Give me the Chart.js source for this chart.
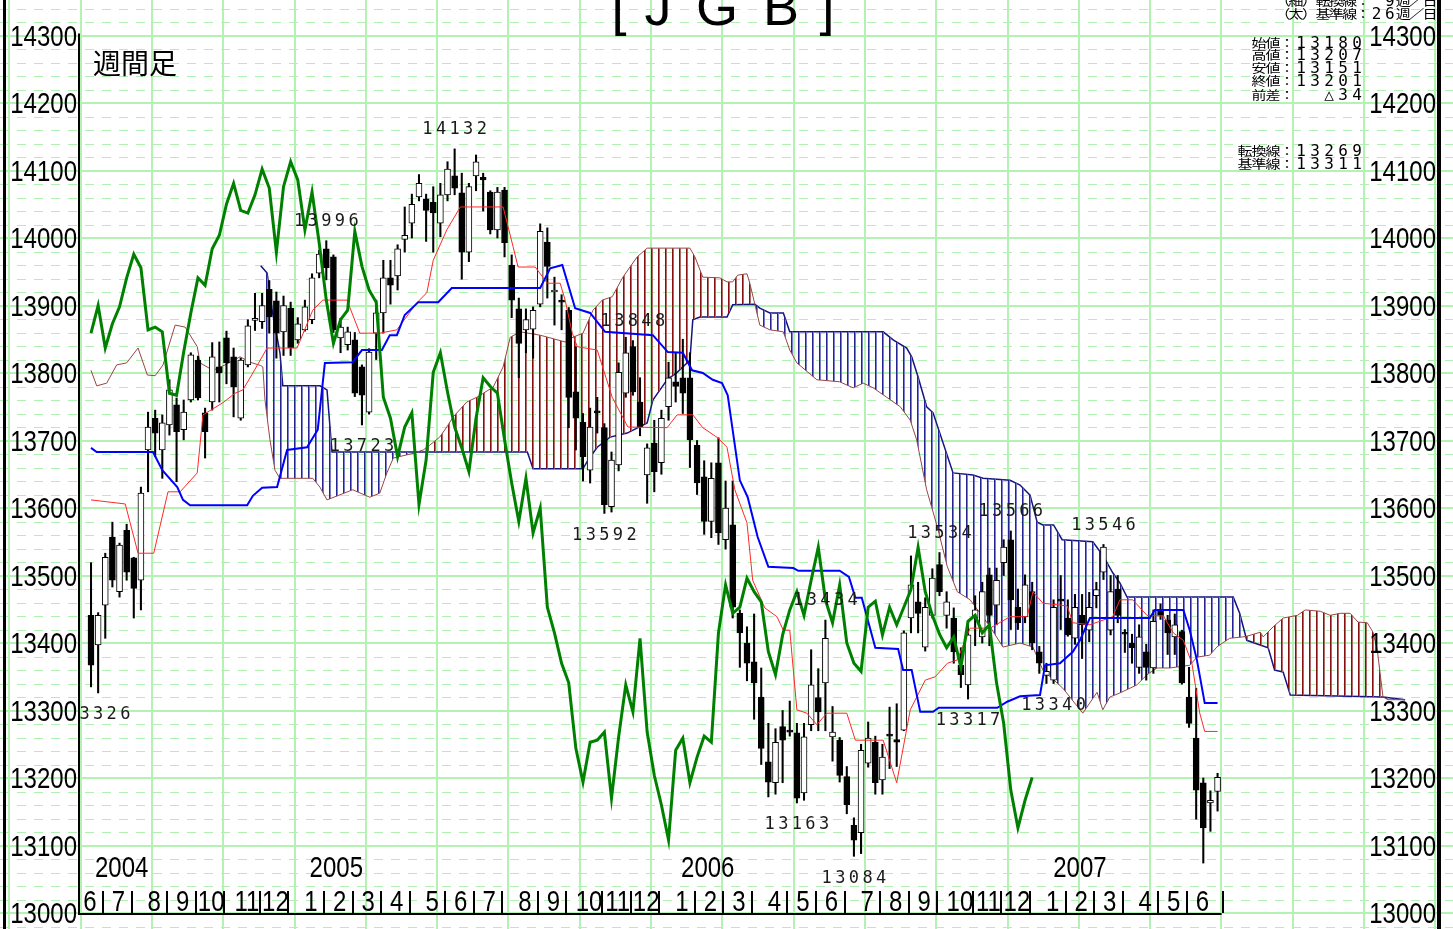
<!DOCTYPE html>
<html>
<head>
<meta charset="utf-8">
<script src="https://cdn.jsdelivr.net/npm/chart.js"></script>
<style>
  html, body { margin: 0; padding: 0; background: #fff; overflow: hidden; }
</style>
</head>
<body>
<canvas id="jgbChart" width="1453" height="929"></canvas>
<script>
// weekly JGB futures, first candle = week of 2004-05-31
const opens = [13441,13397,13456,13557,13476,13567,13526,13493,13686,13733,
  13686,13723,13753,13716,13760,13819,13741,13757,13809,13852,
  13824,13733,13812,13878,13876,13924,13907,13861,13896,13849,
  13864,13879,13948,13984,13972,13852,13842,13849,13809,13742,
  13859,13889,13941,13944,13998,14022,14061,14058,14053,14022,
  14064,14092,14067,13979,14092,14090,14068,14012,14071,13960,
  13895,13864,13865,13902,13994,13920,13905,13893,13772,13727,
  13656,13741,13719,13602,13664,13770,13839,13757,13649,13696,
  13667,13750,13787,13793,13793,13693,13646,13580,13667,13553,
  13575,13444,13400,13372,13320,13224,13193,13276,13268,13267,
  13178,13279,13319,13341,13261,13256,13202,13130,13119,13222,
  13253,13197,13262,13257,13271,13437,13461,13394,13441,13516,
  13441,13437,13367,13338,13437,13409,13501,13456,13519,13553,
  13453,13439,13476,13387,13352,13345,13464,13437,13407,13441,
  13419,13470,13505,13419,13480,13415,13400,13364,13387,13363,
  13449,13434,13409,13417,13320,13259,13193,13163,13180];
const highs = [13519,13445,13533,13579,13548,13576,13527,13631,13742,13745,
  13738,13790,13763,13760,13830,13825,13748,13845,13846,13862,
  13837,13822,13879,13918,13918,13937,13920,13914,13905,13882,
  13908,13947,13982,13996,13975,13881,13868,13860,13812,13836,
  13908,13967,13967,13990,14046,14065,14094,14065,14076,14081,
  14113,14132,14096,14081,14123,14096,14070,14075,14075,13975,
  13911,13895,13898,14021,14015,13942,13916,13897,13839,13740,
  13748,13764,13725,13683,13815,13853,13848,13793,13695,13730,
  13745,13816,13830,13850,13830,13700,13670,13667,13704,13640,
  13640,13449,13424,13443,13363,13281,13273,13300,13314,13281,
  13281,13390,13362,13434,13306,13260,13217,13141,13250,13283,
  13262,13250,13305,13310,13418,13529,13490,13467,13510,13534,
  13476,13452,13393,13427,13470,13490,13511,13511,13553,13566,
  13480,13501,13490,13395,13370,13464,13500,13464,13472,13472,
  13475,13490,13546,13500,13500,13420,13413,13427,13398,13449,
  13458,13441,13443,13419,13364,13333,13200,13181,13207];
const lows = [13335,13326,13407,13483,13468,13493,13437,13449,13624,13676,
  13644,13708,13639,13701,13757,13760,13674,13745,13757,13784,
  13735,13730,13809,13863,13866,13859,13822,13826,13826,13844,
  13862,13873,13941,13938,13860,13830,13834,13765,13723,13739,
  13820,13859,13902,13923,13979,14000,14055,13995,13979,14002,
  14055,14064,13939,13965,14070,14040,14006,14000,13972,13882,
  13793,13830,13822,13898,13911,13871,13864,13719,13686,13640,
  13637,13711,13592,13594,13655,13764,13767,13707,13607,13624,
  13650,13730,13757,13740,13660,13620,13561,13556,13546,13539,
  13437,13364,13344,13287,13220,13172,13176,13193,13262,13163,
  13167,13270,13270,13270,13225,13194,13147,13084,13088,13216,
  13176,13176,13214,13217,13270,13415,13415,13388,13437,13470,
  13422,13370,13334,13317,13396,13400,13396,13427,13500,13420,
  13420,13430,13390,13355,13340,13340,13420,13410,13398,13377,
  13402,13452,13494,13412,13430,13386,13370,13355,13345,13355,
  13435,13383,13383,13339,13275,13139,13074,13121,13151];
const closes = [13367,13441,13527,13493,13545,13505,13481,13622,13720,13711,
  13726,13775,13713,13742,13827,13763,13713,13824,13800,13815,
  13779,13819,13870,13880,13900,13883,13859,13900,13837,13873,
  13898,13941,13976,13956,13864,13868,13861,13770,13767,13831,
  13889,13941,13930,13984,14004,14050,14081,14041,14037,14064,
  14102,14074,13979,14076,14113,14086,14012,14068,13993,13908,
  13844,13879,13893,14010,13958,13923,13905,13764,13733,13676,
  13720,13741,13605,13671,13801,13830,13772,13720,13689,13654,
  13733,13793,13780,13770,13701,13637,13580,13644,13563,13600,
  13453,13415,13370,13341,13244,13194,13253,13256,13268,13170,
  13261,13338,13298,13407,13268,13204,13160,13108,13241,13259,
  13193,13231,13262,13253,13415,13486,13444,13453,13496,13476,
  13461,13387,13353,13412,13449,13476,13441,13493,13542,13464,
  13430,13486,13400,13370,13358,13453,13462,13412,13453,13427,
  13453,13479,13542,13476,13441,13413,13393,13409,13364,13432,
  13441,13415,13427,13341,13281,13182,13126,13167,13201];

const chikouShift = 26;

// ichimoku lines as [week, value] vertices
const tenkanPts = [[0,13612],[4.8,13606],[6.6,13533],[8.8,13533],[10.8,13624],[12.5,13624],
  [14.9,13652],[15.7,13738],[18.5,13756],[20.2,13770],[21.3,13775],[22.7,13800],[24.7,13837],
  [28.9,13837],[31.1,13893],[32.5,13908],[35.9,13908],[37.7,13859],[40.5,13859],[42.9,13864],
  [45.7,13904],[47.1,13919],[48.0,13967],[49.9,14012],[51.8,14046],[57.8,14046],[59.2,13987],
  [59.9,13957],[62.3,13957],[64.0,13933],[65.8,13933],[66.5,13908],[67.5,13859],[68.2,13839],
  [71.0,13834],[73.1,13764],[75.3,13720],[80.8,13719],[82.2,13738],[84.4,13738],[85.8,13719],
  [87.9,13704],[89.2,13690],[90.3,13627],[92.0,13578],[92.8,13493],[94.5,13452],[96.2,13439],
  [97.1,13419],[98.0,13419],[99.0,13301],[100.4,13296],[101.8,13279],[103.2,13296],[106.0,13296],
  [107.2,13256],[111.1,13256],[113.0,13193],[114.9,13301],[117.0,13345],[118.4,13350],
  [120.1,13370],[121.5,13375],[123.3,13422],[126.1,13422],[128.9,13439],[131.3,13439],
  [132.1,13476],[133.5,13459],[136.9,13455],[137.7,13430],[140.1,13427],[143.3,13439],
  [144.3,13464],[146.1,13464],[148.1,13441],[150.4,13440],[151.8,13415],[153.2,13404],
  [154.4,13370],[155.5,13296],[156.2,13269],[158,13269]];
const kijunPts = [[0,13689],[0.8,13683],[8.7,13683],[10.0,13656],[12.1,13631],[12.9,13612],
  [13.9,13604],[21.9,13604],[22.7,13618],[24.0,13630],[26.1,13631],[27.5,13686],[30.3,13690],
  [31.8,13716],[32.8,13815],[36.7,13816],[38.0,13834],[40.8,13834],[41.9,13856],[42.9,13856],
  [44.0,13886],[45.9,13905],[48.7,13905],[50.6,13926],[63.0,13926],[64.4,13955],[66.1,13960],
  [67.9,13896],[70.0,13889],[72.1,13861],[78.8,13856],[80.9,13831],[83.0,13830],[84.3,13804],
  [85.8,13800],[87.2,13790],[88.5,13785],[89.3,13767],[91.0,13641],[92.1,13616],[93.5,13557],
  [95.0,13513],[98.5,13511],[99.2,13507],[105.0,13507],[106.3,13498],[107.2,13467],[108.1,13467],
  [110.0,13393],[113.2,13391],[113.9,13360],[115.1,13360],[116.3,13298],[118.1,13298],
  [118.9,13304],[127.1,13304],[128.5,13313],[130.3,13321],[133.1,13323],[133.8,13367],
  [135.9,13370],[137.7,13387],[138.7,13404],[140.1,13437],[148.5,13437],[149.2,13449],
  [153.2,13449],[154.1,13419],[155.1,13375],[156.2,13311],[158,13311]];
const spanAEarlyPts = [[0,13804],[0.8,13781],[2.2,13785],[3.6,13812],[5.0,13815],[6.6,13837],
  [7.9,13797],[9.0,13796],[10.1,13812],[11.8,13871],[13.2,13868],[14.9,13839],[15.3,13815],
  [17.1,13804],[18.8,13812],[20.9,13824],[22.3,13816],[23.8,13811]];
const spanAPts = [[23.8,13811],[24.1,13809],[24.4,13760],[25.1,13701],[25.8,13656],[26.5,13644],
  [31.1,13644],[32.1,13631],[33.1,13612],[36.7,13627],[39.1,13616],[40.5,13622],[41.5,13652],
  [42.4,13674],[45.2,13681],[46.6,13686],[47.5,13693],[48.9,13705],[49.9,13720],[50.8,13735],
  [52.7,13757],[54.1,13764],[56.4,13779],[57.8,13809],[58.8,13853],[60.2,13861],[63.0,13856],
  [66.5,13846],[67.6,13853],[69.0,13859],[70.4,13893],[71.7,13908],[73.1,13913],[74.6,13942],
  [76.6,13972],[78.0,13985],[84.0,13985],[84.7,13972],[85.8,13942],[88.2,13941],[89.2,13935],
  [90.0,13935],[90.7,13945],[92.0,13947],[92.4,13933],[93.1,13902],[93.8,13871],[95.2,13864],
  [97.1,13861],[98.0,13834],[99.0,13815],[101.8,13790],[105.0,13787],[106.9,13778],[108.3,13785],
  [109.7,13778],[111.6,13764],[113.5,13750],[114.9,13730],[115.8,13701],[117.2,13627],
  [118.7,13572],[120.1,13513],[121.5,13476],[123.3,13464],[126.1,13424],[127.9,13394],
  [130.3,13400],[132.1,13394],[133.5,13360],[136.3,13333],[139.1,13296],[141.1,13327],
  [141.9,13301],[142.9,13320],[144.3,13326],[146.7,13338],[148.1,13353],[149.5,13363],
  [151.3,13363],[154.1,13367],[155.1,13379],[156.9,13382],[157.9,13394],[158.7,13400],
  [159.7,13407],[161.5,13409],[162.1,13410],[164.0,13416],[164.4,13409],[165.8,13424],
  [167.2,13437],[169.2,13441],[170.3,13449],[172.4,13447],[173.8,13441],[175.2,13444],
  [176.6,13444],[177.7,13431],[179.0,13430],[179.8,13416],[180.4,13390],[181.2,13320],
  [181.9,13316],[184.3,13316]];
const spanBPts = [[23.8,13959],[24.7,13948],[25.4,13893],[26.5,13830],[26.9,13781],[32.1,13781],
  [33.1,13775],[33.8,13683],[61.2,13683],[62.0,13658],[69.0,13658],[69.7,13671],[71.0,13690],
  [72.8,13705],[75.2,13711],[78.0,13726],[78.8,13760],[79.8,13775],[80.8,13790],[82.2,13801],
  [84.0,13819],[84.4,13879],[85.4,13883],[89.2,13883],[90.0,13901],[93.1,13902],[93.8,13896],
  [95.2,13889],[97.1,13889],[98.0,13861],[111.1,13861],[112.5,13849],[114.4,13837],[115.1,13824],
  [116.0,13794],[117.2,13750],[118.1,13741],[120.9,13652],[123.7,13649],[125.1,13644],
  [128.9,13641],[130.3,13634],[131.7,13619],[132.7,13579],[133.5,13575],[135.0,13575],
  [136.2,13553],[140.5,13550],[141.9,13530],[143.3,13504],[144.3,13489],[145.3,13468],
  [160.2,13468],[161.1,13444],[162.1,13404],[165.1,13393],[166.0,13360],[167.2,13357],
  [168.2,13323],[181.2,13320],[184.3,13316]];

// axes and labels
const yTicks = [13000,13100,13200,13300,13400,13500,13600,13700,13800,13900,14000,14100,14200,14300];
const monthLabels = ['6','7','8','9','10','11','12','1','2','3','4','5','6','7','8','9','10','11','12',
  '1','2','3','4','5','6','7','8','9','10','11','12','1','2','3','4','5','6'];
const monthWeeks = [0,4,9,13,17,22,26,31,35,39,43,48,52,56,61,65,70,74,78,
  83,87,91,96,100,104,109,113,117,122,126,130,135,139,143,148,152,156];
const yearLabels = ['2004','2005','2006','2007'];
const yearWeeks = [4.3,34.4,86.5,138.7];
// marked highs (h) and lows (l): candle index
const marks = [[1,'l'],[33,'h'],[51,'h'],[38,'l'],[72,'l'],[76,'h'],[103,'h'],[99,'l'],[107,'l'],
  [119,'h'],[129,'h'],[142,'h'],[123,'l'],[135,'l']];

const toXY = pts => pts.map(p => ({x: p[0], y: p[1]}));

function hatch(c1, c2) {
  const cv = document.createElement('canvas');
  cv.width = 7; cv.height = 4;
  const g = cv.getContext('2d');
  g.fillStyle = c1; g.fillRect(0, 0, 1, 4);
  g.fillStyle = c2; g.fillRect(1, 0, 1, 4);
  return g.createPattern(cv, 'repeat');
}

function spaced(ctx, text, x, y, pitch) {
  [...text].forEach((ch, k) => ctx.fillText(ch, x + k * pitch + pitch / 2, y));
}

const decor = {
  id: 'decor',
  beforeDatasetsDraw(chart) {
    const {ctx, scales: {x, y}} = chart;
    const W = chart.width, H = chart.height;
    ctx.save();
    ctx.strokeStyle = 'rgb(176,240,176)';
    ctx.lineWidth = 1;
    ctx.setLineDash([9, 8]);
    for (let v = 12980; v <= 14340; v += 20) {
      if (v % 100 === 0) continue;
      const py = Math.round(y.getPixelForValue(v)) + 0.5;
      ctx.beginPath(); ctx.moveTo(0, py); ctx.lineTo(W, py); ctx.stroke();
    }
    ctx.setLineDash([]);
    ctx.strokeStyle = 'rgb(180,242,180)';
    ctx.lineWidth = 2;
    yTicks.forEach(v => {
      const py = Math.round(y.getPixelForValue(v));
      ctx.beginPath(); ctx.moveTo(0, py); ctx.lineTo(W, py); ctx.stroke();
    });
    for (let w = -11.45; w < 200; w += 10) {
      const px = Math.round(x.getPixelForValue(w));
      ctx.beginPath(); ctx.moveTo(px, 0); ctx.lineTo(px, H); ctx.stroke();
    }
    ctx.restore();
  },
  afterDatasetsDraw(chart) {
    const {ctx, scales: {x, y}} = chart;
    const H = chart.height;
    const axisX = 79, rightX = 1439;
    const baseY = y.getPixelForValue(13000);
    const endX = x.getPixelForValue(158) + 4;
    ctx.save();

    // high / low marks
    ctx.save();
    ctx.beginPath(); ctx.rect(axisX + 1, 0, rightX - axisX - 3, H); ctx.clip();
    ctx.fillStyle = '#1a1a1a';
    ctx.font = '17px "DejaVu Sans Mono"';
    ctx.textAlign = 'center'; ctx.textBaseline = 'middle';
    marks.forEach(([i, side]) => {
      const v = side === 'h' ? highs[i] : lows[i];
      const t = String(v);
      const cx = x.getPixelForValue(i);
      const cy = y.getPixelForValue(v) + (side === 'h' ? -19 : 22);
      spaced(ctx, t, cx - t.length * 13.6 / 2, cy, 13.6);
    });
    ctx.restore();

    // frame lines
    ctx.fillStyle = '#000';
    ctx.fillRect(3, 0, 3, H);
    ctx.fillRect(rightX - 2, 0, 4, H);
    ctx.fillRect(axisX - 1, y.getPixelForValue(14300) - 2, 2, baseY - y.getPixelForValue(14300) + 4);
    ctx.fillRect(axisX - 1, baseY, endX - axisX + 1, 2);

    // price labels
    ctx.font = '30px "Liberation Sans"';
    ctx.textBaseline = 'middle';
    ctx.textAlign = 'right';
    yTicks.forEach(v => {
      const py = y.getPixelForValue(v) + 2;
      [77, 1436].forEach(rx => {
        ctx.save(); ctx.translate(rx, py); ctx.scale(0.8, 1);
        ctx.fillText(String(v), 0, 0); ctx.restore();
      });
    });

    // month axis
    ctx.textAlign = 'center';
    monthLabels.forEach((m, k) => {
      const px = x.getPixelForValue(monthWeeks[k]);
      ctx.save(); ctx.translate(px - 1, baseY - 10); ctx.scale(0.8, 1);
      ctx.fillText(m, 0, 0); ctx.restore();
      if (k < monthLabels.length - 1) ctx.fillRect(Math.round(px + 11), baseY - 22, 2, 22);
    });
    ctx.fillRect(Math.round(endX), baseY - 22, 2, 22);
    yearLabels.forEach((t, k) => {
      const px = x.getPixelForValue(yearWeeks[k]);
      ctx.save(); ctx.translate(px, baseY - 44); ctx.scale(0.8, 1);
      ctx.fillText(t, 0, 0); ctx.restore();
    });

    // title and headings
    ctx.font = '54px "Liberation Sans"';
    ctx.textBaseline = 'alphabetic';
    [['[', 619], ['J', 658], ['G', 717], ['B', 781], [']', 827]].forEach(([c, px]) => {
      ctx.fillText(c, px, 25);
    });
    ctx.textAlign = 'left';
    ctx.font = '28px "Noto Sans CJK JP"';
    ctx.textBaseline = 'middle';
    ctx.fillText('週間足', 93, 63);

    // info box: CJK squashed vertically, digits in a plain mono face
    ctx.textAlign = 'center';
    const row = (t, x0, yy, pitch) => {
      [...t].forEach((ch, k) => {
        const cx = x0 + k * pitch + pitch / 2;
        if (/[0-9△]/.test(ch)) {
          ctx.font = '16px "DejaVu Sans Mono"';
          ctx.fillText(ch, cx, yy + 1);
        } else {
          ctx.font = '15px "Noto Sans CJK JP"';
          ctx.save(); ctx.translate(cx, yy); ctx.scale(1, 0.82);
          ctx.fillText(ch, 0, 0); ctx.restore();
        }
      });
    };
    row('（細）転換線： 9週／日', 1276, 1, 13.4);
    row('（太）基準線：26週／日', 1276, 14, 13.4);
    row('始値：' + opens[158], 1252, 43, 14);
    row('高値：' + highs[158], 1252, 55, 14);
    row('安値：' + lows[158], 1252, 68, 14);
    row('終値：' + closes[158], 1252, 81, 14);
    row('前差：  △' + (closes[158] - closes[157]), 1252, 95, 14);
    row('転換線：' + tenkanPts[tenkanPts.length - 1][1], 1238, 151, 14);
    row('基準線：' + kijunPts[kijunPts.length - 1][1], 1238, 164, 14);
    ctx.restore();
  }
};

const upDown = c => closes[c.dataIndex] > opens[c.dataIndex] ? '#ffffff' : '#000000';

new Chart(document.getElementById('jgbChart').getContext('2d'), {
  data: {
    datasets: [
      {
        type: 'line', label: 'spanB', order: 20,
        data: toXY(spanBPts),
        borderColor: 'rgb(20,20,130)', borderWidth: 1.5, pointRadius: 0, fill: false
      },
      {
        type: 'line', label: 'spanA', order: 19,
        data: toXY(spanAPts),
        borderColor: 'rgb(150,70,70)', borderWidth: 1, pointRadius: 0,
        fill: {target: 0, above: hatch('rgb(135,15,15)', 'rgb(180,105,105)'),
               below: hatch('rgb(35,35,145)', 'rgb(125,125,205)')}
      },
      {
        type: 'line', label: 'spanAEarly', order: 18,
        data: toXY(spanAEarlyPts),
        borderColor: 'rgb(150,70,70)', borderWidth: 1, pointRadius: 0, fill: false
      },
      {
        type: 'bar', label: 'wick', order: 9, grouped: false,
        data: highs.map((h, i) => ({x: i, y: [lows[i], h]})),
        backgroundColor: '#000', barThickness: 1.4
      },
      {
        type: 'bar', label: 'body', order: 8, grouped: false,
        data: opens.map((o, i) => ({x: i, y: [o, closes[i]]})),
        backgroundColor: upDown, borderColor: '#000', borderWidth: 1,
        borderSkipped: false, barThickness: 6, minBarLength: 2
      },
      {
        type: 'line', label: 'tenkan', order: 4,
        data: toXY(tenkanPts),
        borderColor: 'rgb(255,40,40)', borderWidth: 1, pointRadius: 0, fill: false
      },
      {
        type: 'line', label: 'kijun', order: 3,
        data: toXY(kijunPts),
        borderColor: 'rgb(0,0,255)', borderWidth: 2, pointRadius: 0, fill: false
      },
      {
        type: 'line', label: 'chikou', order: 2,
        data: closes.slice(chikouShift).map((c, k) => ({x: k, y: c})),
        borderColor: 'rgb(0,128,0)', borderWidth: 3, pointRadius: 0, fill: false
      }
    ]
  },
  options: {
    responsive: false,
    animation: false,
    devicePixelRatio: 1,
    layout: {padding: 0},
    plugins: {legend: {display: false}, tooltip: {enabled: false}},
    scales: {
      x: {type: 'linear', min: -12.763, max: 191.02, display: false, offset: false},
      y: {type: 'linear', min: 12976.3, max: 14352.6, display: false}
    }
  },
  plugins: [decor]
});
</script>
</body>
</html>
